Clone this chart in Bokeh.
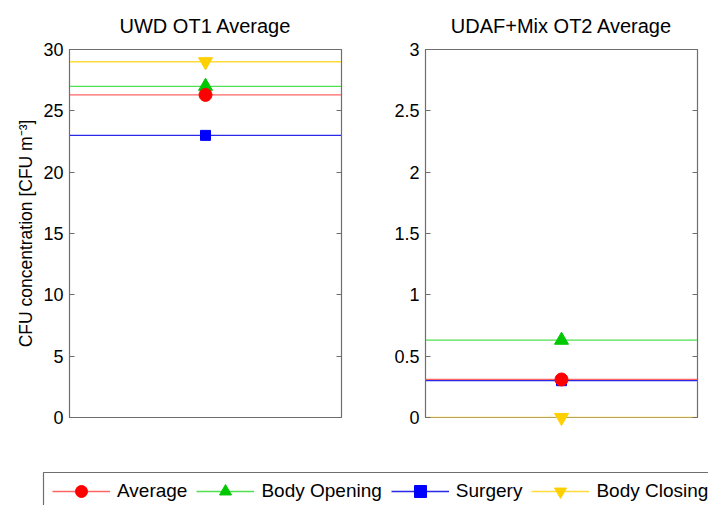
from bokeh.plotting import figure
from bokeh.layouts import column, row
from bokeh.models import (Range1d, FactorRange, Span, LinearAxis, FixedTicker,
                          Legend, LegendItem, ColumnDataSource, BoxAnnotation)
from bokeh.embed import file_html
from bokeh.resources import INLINE

# ---- data ----
series = ["Average", "Body Opening", "Surgery", "Body Closing"]
markers = ["circle", "triangle", "square", "inverted_triangle"]
marker_colors = ["#ff0000", "#00c800", "#0000ff", "#ffd000"]
line_colors = ["#ff6464", "#50e050", "#2828e6", "#ffdc3c"]
marker_sizes = [13, 14, 10, 14]

panel_titles = ["UWD OT1 Average", "UDAF+Mix OT2 Average"]
panel_cats = ["OT1", "OT2"]
ot1_values = [26.3, 27.0, 23.0, 29.0]
ot2_values = [0.31, 0.63, 0.30, 0.0]
ot1_ticks = [0, 5, 10, 15, 20, 25, 30]
ot2_ticks = [0, 0.5, 1, 1.5, 2, 2.5, 3]
ylabel = "CFU concentration [CFU m\u207b\u00b3]"

FONT = "Liberation Sans"
FRAME = "#6e6e6e"
draw_order = [1, 2, 3, 0]


def make_panel(title, cat, values, ticks, width, left, right, label=None):
    p = figure(width=width, height=433, output_backend="svg", toolbar_location=None,
               x_range=FactorRange(cat), y_range=Range1d(ticks[0], ticks[-1]),
               min_border_left=left, min_border_right=right,
               min_border_top=48, min_border_bottom=16,
               title=title)
    p.title.align = "center"
    p.title.text_font = FONT
    p.title.text_font_size = "20px"
    p.title.text_font_style = "normal"
    p.title.text_color = "#000000"
    p.title.standoff = 25
    p.xaxis.visible = False
    p.grid.visible = False
    p.outline_line_color = FRAME
    p.outline_line_width = 1.2
    p.background_fill_color = "white"
    p.border_fill_color = "white"

    ya = p.yaxis[0]
    ya.ticker = FixedTicker(ticks=ticks)
    ya.minor_tick_line_color = None
    ya.major_tick_in = 5
    ya.major_tick_out = 0
    ya.major_tick_line_color = FRAME
    ya.axis_line_color = FRAME
    ya.major_label_text_font = FONT
    ya.major_label_text_font_size = "18px"
    ya.major_label_text_color = "#000000"
    ya.major_label_standoff = 6
    if label:
        ya.axis_label = label
        ya.axis_label_text_font = FONT
        ya.axis_label_text_font_size = "17.5px"
        ya.axis_label_text_font_style = "normal"
        ya.axis_label_text_color = "#000000"
        ya.axis_label_standoff = 4

    ra = LinearAxis(ticker=FixedTicker(ticks=ticks))
    ra.major_label_text_color = None
    ra.major_label_standoff = 0
    ra.minor_tick_line_color = None
    ra.major_tick_in = 5
    ra.major_tick_out = 0
    ra.major_tick_line_color = FRAME
    ra.axis_line_color = FRAME
    p.add_layout(ra, "right")

    for i in draw_order:
        p.add_layout(Span(location=values[i], dimension="width",
                          line_color=line_colors[i], line_width=1.3, level="underlay"))
    for i in draw_order:
        src = ColumnDataSource(dict(x=[cat], y=[values[i]]))
        r = p.scatter(x="x", y="y", source=src, marker=markers[i], size=marker_sizes[i],
                      fill_color=marker_colors[i], line_color=marker_colors[i])
        r.level = "overlay"
    return p


p1 = make_panel(panel_titles[0], panel_cats[0], ot1_values, ot1_ticks, 361, 69, 20, ylabel)
p2 = make_panel(panel_titles[1], panel_cats[1], ot2_values, ot2_ticks, 347, 64, 11)

# legend strip (legend-only renderers hold no visible data)
nan = float("nan")
pl = figure(width=708, height=72, output_backend="svg", toolbar_location=None,
            x_range=Range1d(0, 1), y_range=Range1d(0, 1),
            x_axis_type=None, y_axis_type=None,
            min_border=0, min_border_left=0, min_border_right=0,
            min_border_top=0, min_border_bottom=0)
pl.outline_line_color = None
pl.grid.visible = False
pl.add_layout(BoxAnnotation(left=43, right=900, bottom=-20, top=33,
                            left_units="screen", right_units="screen",
                            bottom_units="screen", top_units="screen",
                            fill_alpha=0, line_color=FRAME, line_width=1.2,
                            line_alpha=1))
items = []
for i in range(len(series)):
    lr = pl.line(x=[nan, nan], y=[nan, nan], line_color=line_colors[i], line_width=1.3)
    sr = pl.scatter(x=[nan], y=[nan], marker=markers[i], size=marker_sizes[i],
                    fill_color=marker_colors[i], line_color=marker_colors[i])
    items.append(LegendItem(label=series[i], renderers=[lr, sr]))
leg = Legend(items=items, orientation="horizontal", location=(52, -1))
leg.label_text_font = FONT
leg.label_text_font_size = "19px"
leg.label_text_color = "#000000"
leg.glyph_width = 58
leg.glyph_height = 30
leg.label_height = 30
leg.label_standoff = 7
leg.spacing = 9
leg.padding = 3
leg.margin = 0
leg.border_line_color = None
leg.background_fill_alpha = 0
pl.add_layout(leg, "center")

layout = column(row(p1, p2), pl)
open("out.html", "w").write(file_html(layout, INLINE))
